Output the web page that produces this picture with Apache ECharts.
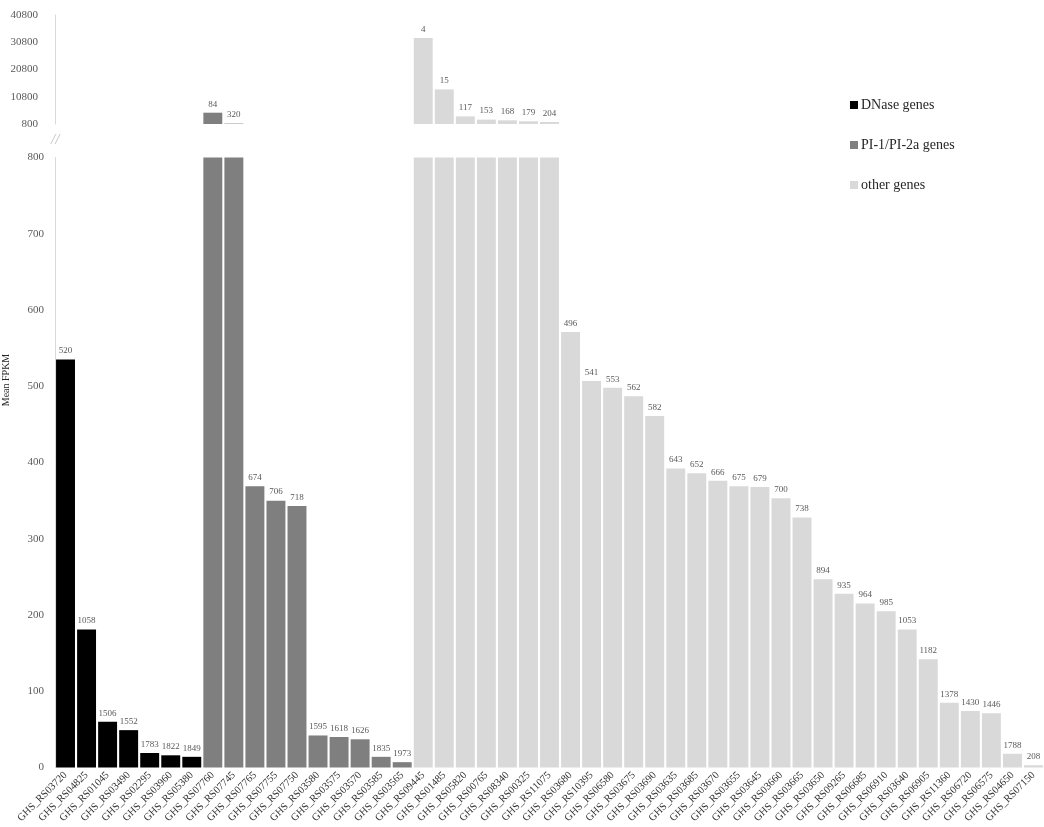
<!DOCTYPE html>
<html>
<head>
<meta charset="utf-8">
<style>
  html, body { margin: 0; padding: 0; background: #ffffff; }
  #chart { width: 1044px; height: 827px; }
</style>
<script src="https://cdn.jsdelivr.net/npm/echarts@6/dist/echarts.min.js"></script>
</head>
<body>
<div id="chart"></div>
<script>
// Gene groups: locus tags, mean FPKM and expression rank shown above each bar
const dnaseGenes = ['GHS_RS03720', 'GHS_RS04825', 'GHS_RS01045', 'GHS_RS03490', 'GHS_RS02295', 'GHS_RS03960', 'GHS_RS05380'];
const dnaseFpkm  = [535, 181, 60, 49, 19, 16, 14];
const dnaseRank  = [520, 1058, 1506, 1552, 1783, 1822, 1849];

const piGenes = ['GHS_RS07760', 'GHS_RS07745', 'GHS_RS07765', 'GHS_RS07755', 'GHS_RS07750', 'GHS_RS03580', 'GHS_RS03575', 'GHS_RS03570', 'GHS_RS03585', 'GHS_RS03565'];
const piFpkm  = [4950, 950, 369, 350, 343, 42, 40, 37, 14, 7];
const piRank  = [84, 320, 674, 706, 718, 1595, 1618, 1626, 1835, 1973];

const otherGenes = ['GHS_RS09445', 'GHS_RS01485', 'GHS_RS05820', 'GHS_RS00765', 'GHS_RS08340', 'GHS_RS00325', 'GHS_RS11075',
  'GHS_RS03680', 'GHS_RS10395', 'GHS_RS06580', 'GHS_RS03675', 'GHS_RS03690', 'GHS_RS03635', 'GHS_RS03685', 'GHS_RS03670',
  'GHS_RS03655', 'GHS_RS03645', 'GHS_RS03660', 'GHS_RS03665', 'GHS_RS03650', 'GHS_RS09265', 'GHS_RS06685', 'GHS_RS06910',
  'GHS_RS03640', 'GHS_RS06905', 'GHS_RS11360', 'GHS_RS06720', 'GHS_RS06575', 'GHS_RS04650', 'GHS_RS07150'];
const otherFpkm = [32400, 13500, 3600, 2400, 2150, 1800, 1550,
  571, 507, 498, 487, 461, 392, 386, 376,
  369, 368, 353, 328, 247, 228, 215, 205,
  181, 142, 85, 74, 71, 18, 3];
const otherRank = [4, 15, 117, 153, 168, 179, 204,
  496, 541, 553, 562, 582, 643, 652, 666,
  675, 679, 700, 738, 894, 935, 964, 985,
  1053, 1182, 1378, 1430, 1446, 1788, 208];

// Axis break: lower panel 0–800, upper panel 800–40800
const lowerTicks = [0, 100, 200, 300, 400, 500, 600, 700, 800];
const upperTicks = [800, 10800, 20800, 30800, 40800];
const breakValue = 800;

const groups = [
  { name: 'DNase genes', genes: dnaseGenes, fpkm: dnaseFpkm, rank: dnaseRank, color: '#000000' },
  { name: 'PI-1/PI-2a genes', genes: piGenes, fpkm: piFpkm, rank: piRank, color: '#7f7f7f' },
  { name: 'other genes', genes: otherGenes, fpkm: otherFpkm, rank: otherRank, color: '#d9d9d9' }
];

const categories = [].concat(dnaseGenes, piGenes, otherGenes);

const serif = '"Liberation Serif", "DejaVu Serif", serif';
const tickColor = '#595959';

function buildSeries(group, offset, panel) {
  const values = categories.map(function () { return '-'; });
  const ranks = {};
  group.fpkm.forEach(function (v, i) {
    const idx = offset + i;
    values[idx] = v;
    ranks[idx] = group.rank[i];
  });
  return {
    name: group.name,
    type: 'bar',
    xAxisIndex: panel,
    yAxisIndex: panel,
    data: values,
    barGap: '-100%',
    barCategoryGap: '10%',
    itemStyle: { color: group.color },
    emphasis: { disabled: true },
    label: {
      show: true,
      position: 'top',
      distance: 4,
      fontFamily: serif,
      fontSize: 9,
      color: tickColor,
      formatter: function (p) {
        const v = p.value;
        const above = v > breakValue;
        if ((panel === 0 && !above) || (panel === 1 && above)) return '';
        return String(ranks[p.dataIndex]);
      }
    }
  };
}

const series = [];
let offset = 0;
groups.forEach(function (g) {
  series.push(buildSeries(g, offset, 0));
  series.push(buildSeries(g, offset, 1));
  offset += g.genes.length;
});

const chart = echarts.init(document.getElementById('chart'), null, { renderer: 'canvas' });

chart.setOption({
  animation: false,
  backgroundColor: '#ffffff',
  grid: [
    { left: 55, top: 15, width: 994, height: 109 },
    { left: 55, top: 157.5, width: 994, height: 610 }
  ],
  legend: {
    data: groups.map(function (g) { return g.name; }),
    orient: 'vertical',
    left: 845,
    top: 93,
    itemWidth: 8,
    itemHeight: 8,
    itemGap: 26,
    icon: 'rect',
    selectedMode: false,
    textStyle: { fontFamily: serif, fontSize: 14, color: '#262626', padding: [0, 0, 0, -2] }
  },
  xAxis: [
    {
      type: 'category', gridIndex: 0, data: categories,
      axisLine: { show: false }, axisTick: { show: false }, axisLabel: { show: false }
    },
    {
      type: 'category', gridIndex: 1, data: categories,
      axisLine: { show: false }, axisTick: { show: false },
      axisLabel: {
        interval: 0, rotate: 45, margin: 6,
        fontFamily: serif, fontSize: 10.5, color: '#2e2e2e'
      }
    }
  ],
  yAxis: [
    {
      type: 'value', gridIndex: 0,
      min: upperTicks[0], max: upperTicks[upperTicks.length - 1],
      splitLine: { show: false },
      axisLine: { show: true, lineStyle: { color: '#d9d9d9', width: 1 } },
      axisTick: { show: false },
      axisLabel: {
        customValues: upperTicks, margin: 17,
        formatter: function (v) { return String(v); },
        fontFamily: serif, fontSize: 11, color: tickColor
      }
    },
    {
      type: 'value', gridIndex: 1,
      min: lowerTicks[0], max: lowerTicks[lowerTicks.length - 1],
      interval: lowerTicks[1] - lowerTicks[0],
      splitLine: { show: false },
      axisLine: { show: true, lineStyle: { color: '#d9d9d9', width: 1 } },
      axisTick: { show: false },
      axisLabel: {
        margin: 11,
        fontFamily: serif, fontSize: 11, color: tickColor
      }
    }
  ],
  graphic: [
    {
      type: 'text', left: 51, top: 133,
      style: { text: '//', font: 'italic 15px ' + serif, fill: '#bfbfbf' }
    },
    {
      type: 'text', x: 6, y: 380, rotation: Math.PI / 2,
      style: {
        text: 'Mean FPKM', font: '10px ' + serif, fill: '#262626',
        align: 'center', verticalAlign: 'middle'
      }
    }
  ],
  series: series
});
</script>
</body>
</html>
